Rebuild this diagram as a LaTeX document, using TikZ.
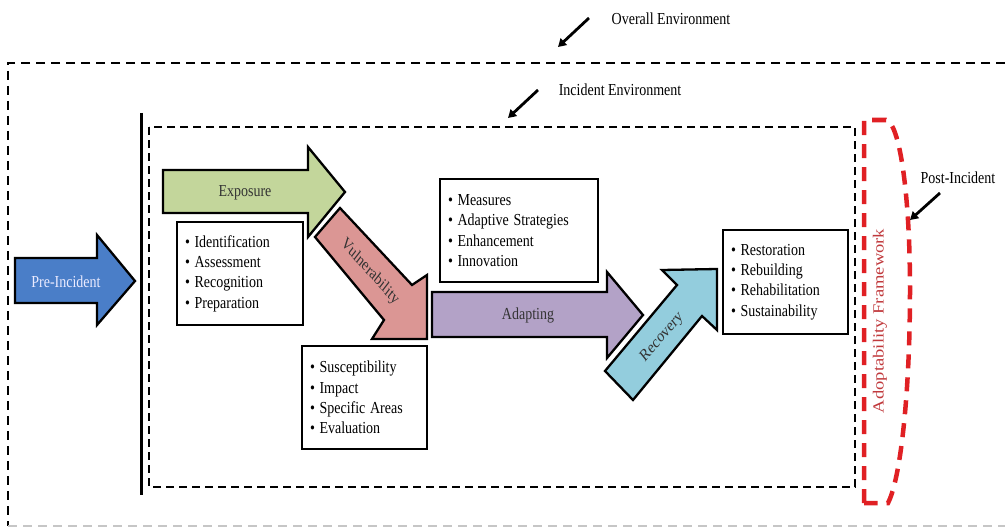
\documentclass[tikz,border=0pt]{standalone}
\usepackage{fontspec}
\setmainfont{Liberation Serif}
\usetikzlibrary{arrows.meta}
\definecolor{preblue}{RGB}{74,126,200}
\definecolor{expgreen}{RGB}{195,214,155}
\definecolor{vulred}{RGB}{219,150,148}
\definecolor{adapurple}{RGB}{179,162,199}
\definecolor{recblue}{RGB}{147,205,221}
\definecolor{framered}{RGB}{224,32,36}
\definecolor{frametext}{RGB}{192,57,60}
\begin{document}
\begin{tikzpicture}[line join=miter,x=1pt,y=-1pt,>={Triangle[length=8pt,width=9pt]},
    txt/.style={font=\fontsize{14}{17}\selectfont,yscale=1.2,transform shape,inner sep=0pt},
    listbox/.style={txt,draw,line width=2pt,align=left,inner xsep=8pt,inner ysep=0pt,minimum height=86pt,text width=#1},
    blockarrow/.style={draw,line width=2.3pt},
    outerenv/.style={line width=2.8pt,dash pattern=on 9pt off 6pt},
    innerenv/.style={line width=2.2pt,dash pattern=on 8pt off 5pt},
    pointer/.style={->,line width=2.8pt}]
\useasboundingbox (0,0) rectangle (1005,527);
% environments
\draw [outerenv] (1005,63) -- (8,63) -- (8,526);
\draw [outerenv,gray!45] (8,526) -- (1005,526);
\draw [innerenv] (149,127) rectangle (855,487);
\draw [line width=3pt] (141,113) -- (141,495);
\draw [line width=4.5pt,framered,dash pattern=on 14pt off 9pt] (864,503) -- (864,120) -- (886,120)
    .. controls (899,122) and (910,190) .. (910,290)
    .. controls (910,390) and (901,478) .. (888,503) -- cycle;
% block arrows
\draw [blockarrow,fill=preblue] (15,258) -- (97,258) -- (97,235) -- (135,281) -- (97,325) -- (97,303) -- (15,303) -- cycle;
\draw [blockarrow,fill=expgreen] (163,170) -- (308,170) -- (308,147) -- (345,192) -- (308,237) -- (308,213) -- (163,213) -- cycle;
\draw [blockarrow,fill=vulred] (315,237) -- (340,208) -- (412,285) -- (427,275) -- (427,339) -- (372,339) -- (384,320) -- cycle;
\draw [blockarrow,fill=adapurple] (432,292) -- (607,292) -- (607,272) -- (643,315) -- (607,358) -- (607,337) -- (432,337) -- cycle;
\draw [blockarrow,fill=recblue] (605,371) -- (677,285) -- (662,270) -- (717,269) -- (717,330) -- (702,316) -- (633,400) -- cycle;
\node [txt,text=blue!8] (pre) at (66,282) {Pre-Incident};
\node [txt,text=black!80] (exposure) at (245,193) {Exposure};
\node [txt,text=black!80,rotate=-43] (vulnerability) at (370,272) {Vulnerability};
\node [txt,text=black!80] (adapting) at (528,315) {Adapting};
\node [txt,text=black!80,rotate=44] (recovery) at (662,337) {Recovery};
% lists
\node [listbox=110pt] (identify) at (240,273.5) {\textbullet\ Identification\\\textbullet\ Assessment\\\textbullet\ Recognition\\\textbullet\ Preparation};
\node [listbox=109pt] (suscept) at (364.5,397.5) {\textbullet\ Susceptibility\\\textbullet\ Impact\\\textbullet\ Specific Areas\\\textbullet\ Evaluation};
\node [listbox=142pt] (measures) at (519,230.5) {\textbullet\ Measures\\\textbullet\ Adaptive Strategies\\\textbullet\ Enhancement\\\textbullet\ Innovation};
\node [listbox=109pt] (restore) at (785.5,282) {\textbullet\ Restoration\\\textbullet\ Rebuilding\\\textbullet\ Rehabilitation\\\textbullet\ Sustainability};
\node [txt,font=\fontsize{15.5}{18}\selectfont,text=frametext,rotate=90] (framework) at (880,321) {Adoptability Framework};
% environment labels
\node [txt] (overall) at (671,19) {Overall Environment};
\node [txt] (incident) at (620,90) {Incident Environment};
\node [txt] (post) at (958,178) {Post-Incident};
\coordinate (overall from) at (589,18);
\coordinate (overall to) at (558,47);
\coordinate (incident from) at (538,90);
\coordinate (incident to) at (508,118);
\coordinate (post from) at (940,193);
\coordinate (post to) at (910,220);
\draw [pointer] (overall from) -- (overall to);
\draw [pointer] (incident from) -- (incident to);
\draw [pointer] (post from) -- (post to);
\end{tikzpicture}
\end{document}
